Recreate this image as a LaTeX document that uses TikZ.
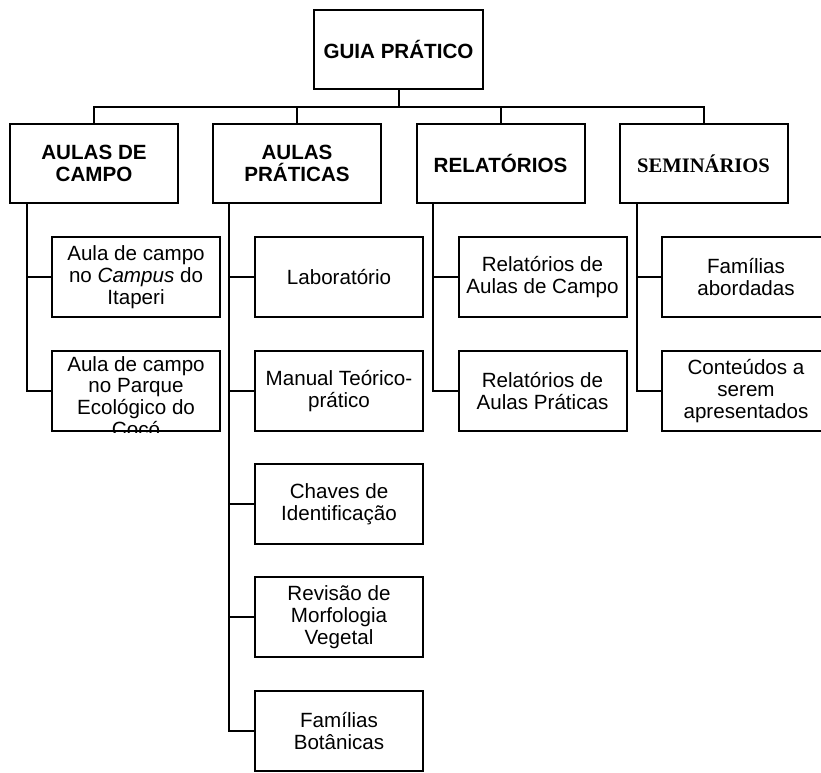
\documentclass[tikz,border=0pt]{standalone}
\usepackage{fontspec}
\setmainfont{Liberation Sans}
\newfontfamily\timesfont{Liberation Serif}
\newcommand{\txtsize}{\fontsize{20.6}{21.7}\selectfont}
\begin{document}
\begin{tikzpicture}[x=1pt,y=-1pt,
  box/.style={draw, line width=2pt, minimum width=168pt, minimum height=80pt, inner sep=0pt, align=center, font=\txtsize},
  hbox/.style={box, minimum height=79pt, font=\txtsize\bfseries},
  link/.style={line width=2pt}]
\useasboundingbox (0,0) rectangle (821,772);
\clip (0,0) rectangle (821,772);
\fill[white] (0,0) rectangle (821,772);

% root
\node[hbox, minimum width=169pt] (guia) at (398.5,49.5) {GUIA PRÁTICO};

% level 1
\node[hbox] (campo) at (94,163.5) {AULAS DE\\CAMPO};
\node[hbox] (prat) at (297,163.5) {AULAS\\PRÁTICAS};
\node[hbox] (rel) at (500.5,163.5) {RELATÓRIOS};
\node[hbox, font=\timesfont\txtsize\bfseries] (sem) at (703.5,163.5) {SEMINÁRIOS};

% children: aulas de campo
\node[box] (c1) at (136,277) {Aula de campo\\no \textit{Campus} do\\Itaperi};
\node[box] (c2) at (136,391) {};
\begin{scope}
  \clip (c2.south west) rectangle (c2.north east);
  \node[anchor=north, align=center, font=\txtsize, inner sep=0pt] (c2t) at (136,356) {Aula de campo\\no Parque\\Ecológico do\\Cocó};
\end{scope}

% children: aulas praticas
\node[box] (p1) at (339,277) {Laboratório};
\node[box] (p2) at (339,391) {Manual Teórico-\\prático};
\node[box] (p3) at (339,504) {Chaves de\\Identificação};
\node[box] (p4) at (339,617) {Revisão de\\Morfologia\\Vegetal};
\node[box] (p5) at (339,731) {Famílias\\Botânicas};

% children: relatorios
\node[box] (r1) at (542.5,277) {Relatórios de\\Aulas de Campo};
\node[box] (r2) at (542.5,391) {Relatórios de\\Aulas Práticas};

% children: seminarios
\node[box] (s1) at (746,277) {Famílias\\abordadas};
\node[box] (s2) at (746,391) {Conteúdos a\\serem\\apresentados};

% root connectors
\coordinate (bus) at (398.5,107);
\draw[link] (guia.south) -- (bus);
\draw[link] (campo.north) |- (bus) -| (sem.north);
\draw[link] (prat.north) -- (prat.north |- bus);
\draw[link] (rel.north) -- (rel.north |- bus);

% spines
\coordinate (spc) at ([xshift=-67pt]campo.south);
\coordinate (spp) at ([xshift=-68pt]prat.south);
\coordinate (spr) at ([xshift=-67.5pt]rel.south);
\coordinate (sps) at ([xshift=-66.5pt]sem.south);

\draw[link] (spc) |- (c2.west);
\draw[link] (spc |- c1.west) -- (c1.west);

\draw[link] (spp) |- (p5.west);
\draw[link] (spp |- p1.west) -- (p1.west);
\draw[link] (spp |- p2.west) -- (p2.west);
\draw[link] (spp |- p3.west) -- (p3.west);
\draw[link] (spp |- p4.west) -- (p4.west);

\draw[link] (spr) |- (r2.west);
\draw[link] (spr |- r1.west) -- (r1.west);

\draw[link] (sps) |- (s2.west);
\draw[link] (sps |- s1.west) -- (s1.west);
\end{tikzpicture}
\end{document}
